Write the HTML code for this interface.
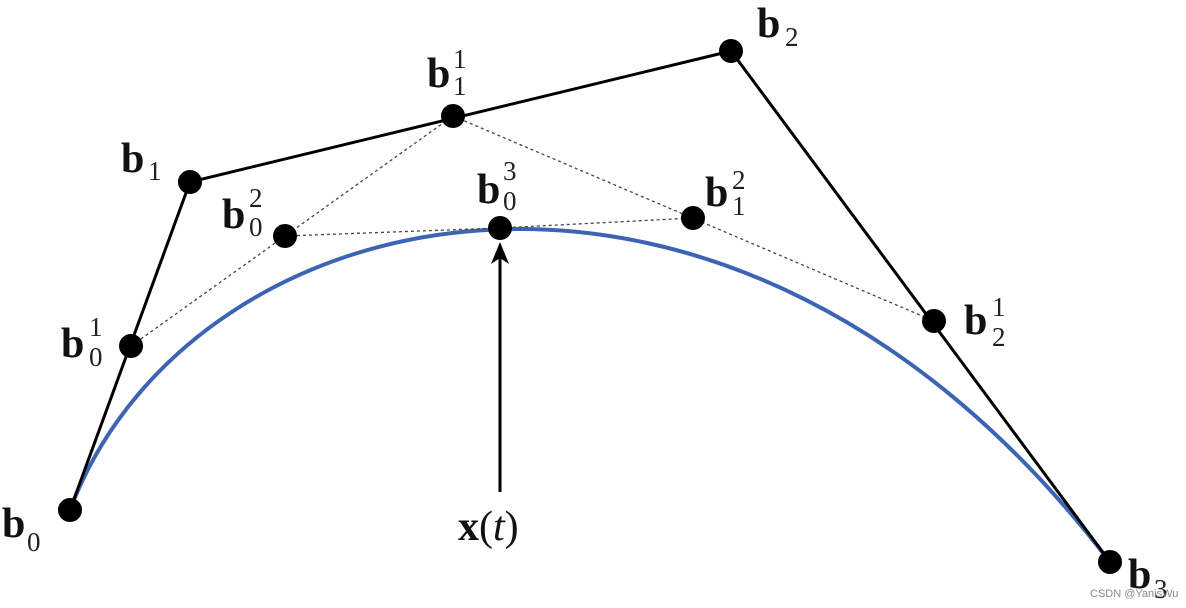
<!DOCTYPE html>
<html><head><meta charset="utf-8"><style>
html,body{margin:0;padding:0;background:#fff;}
svg{display:block;}
.b{font-family:"Liberation Serif",serif;font-weight:bold;font-size:42px;fill:#111;}
.s{font-family:"Liberation Serif",serif;font-size:27px;fill:#222;}
</style></head><body>
<svg width="1186" height="608" viewBox="0 0 1186 608">
<rect width="1186" height="608" fill="#fff"/>
<path d="M70,510 C190,190 731,65 1110,562" fill="none" stroke="#3c64b4" stroke-width="4"/>
<polyline points="70,510 190,182 731,51 1110,562" fill="none" stroke="#000" stroke-width="3"/>
<g stroke="#444" stroke-width="1.3" stroke-dasharray="3,3" fill="none">
<polyline points="131,346 453,116 934,321"/>
<polyline points="285,236 500,228 693,218"/>
</g>
<line x1="500" y1="492" x2="500" y2="258" stroke="#000" stroke-width="3"/>
<path d="M500,242 L491,264 L500,258 L509,264 Z" fill="#000"/>
<g fill="#000">
<circle cx="70" cy="510" r="12"/><circle cx="190" cy="182" r="12"/>
<circle cx="731" cy="51" r="12"/><circle cx="1110" cy="562" r="12"/>
<circle cx="131" cy="346" r="12"/><circle cx="453" cy="116" r="12"/>
<circle cx="934" cy="321" r="12"/><circle cx="285" cy="236" r="12"/>
<circle cx="693" cy="218" r="12"/><circle cx="500" cy="228" r="12"/>
</g>
<text class="b" x="121" y="172">b</text><text class="s" x="148" y="180">1</text>
<text class="b" x="427" y="87">b</text><text class="s" x="453" y="68">1</text><text class="s" x="453" y="95">1</text>
<text class="b" x="477" y="203">b</text><text class="s" x="503" y="180">3</text><text class="s" x="503" y="210">0</text>
<text class="b" x="222" y="228">b</text><text class="s" x="249" y="207">2</text><text class="s" x="249" y="236">0</text>
<text class="b" x="705" y="206">b</text><text class="s" x="732" y="189">2</text><text class="s" x="732" y="215">1</text>
<text class="b" x="61" y="357">b</text><text class="s" x="89" y="336">1</text><text class="s" x="89" y="366">0</text>
<text class="b" x="964" y="334">b</text><text class="s" x="992" y="316">1</text><text class="s" x="992" y="346">2</text>
<text class="b" x="757" y="37">b</text><text class="s" x="785" y="46">2</text>
<text class="b" x="2" y="537">b</text><text class="s" x="27" y="551">0</text>
<text class="b" x="1128" y="588">b</text><text class="s" x="1154" y="598">3</text>
<text x="458" y="540" style="font-family:'Liberation Serif',serif;font-size:42px;fill:#111"><tspan font-weight="bold">x</tspan>(<tspan font-style="italic">t</tspan>)</text>
<text x="1090" y="597" style="font-family:'Liberation Sans',sans-serif;font-size:11px;fill:#888">CSDN @YanisWu</text>
</svg>
</body></html>
